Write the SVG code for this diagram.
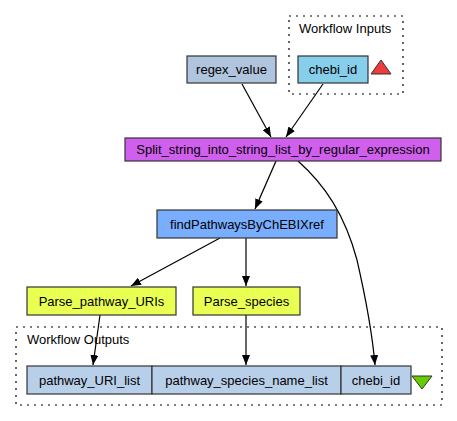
<svg xmlns="http://www.w3.org/2000/svg" width="457" height="421" viewBox="0 0 457 421">
<style>
text{font-family:"Liberation Sans",Arial,sans-serif;font-size:13px;fill:#000}
.n text{text-anchor:middle}
.n rect{stroke:#333;stroke-width:1.2}
.c{fill:none;stroke:#000;stroke-width:1.2;stroke-dasharray:2,5}
.e path{fill:none;stroke:#000;stroke-width:1.2;marker-end:url(#a)}
</style>
<defs>
<marker id="a" viewBox="0 0 10 8" refX="10" refY="4" markerWidth="10" markerHeight="8" markerUnits="userSpaceOnUse" orient="auto">
<path d="M0,0L10,4L0,8z" fill="#000"/>
</marker>
</defs>
<rect width="457" height="421" fill="#fff"/>
<g id="inputs_cluster">
<rect class="c" x="289" y="16" width="114" height="78"/>
<text x="299" y="33">Workflow Inputs</text>
</g>
<g id="outputs_cluster">
<rect class="c" x="16" y="327" width="426" height="78"/>
<text x="27" y="344">Workflow Outputs</text>
</g>
<g class="e" id="connectors">
<path d="M242,84L271,137"/>
<path d="M323,84L286,137"/>
<path d="M276,161L255,209"/>
<path d="M298,161C325,185 345,215 357,260C365,295 372,330 375,365"/>
<path d="M220,238L131,286"/>
<path d="M246,238L246,286"/>
<path d="M100,315L93,365"/>
<path d="M246,315L246,365"/>
</g>
<g class="n" id="regex_value">
<rect x="187" y="56" width="89" height="27" fill="#b0c4de"/>
<text x="231.5" y="74">regex_value</text>
</g>
<g class="n" id="chebi_id_in">
<rect x="298" y="56" width="70" height="27" fill="#87ceeb"/>
<text x="333" y="74">chebi_id</text>
</g>
<g id="input_marker">
<polygon points="381,60 391,74 371,74" fill="#ee3b3b" stroke="#333" stroke-width="1"/>
</g>
<g class="n" id="split">
<rect x="125" y="138" width="316" height="23" fill="#d15fee"/>
<text x="283" y="154">Split_string_into_string_list_by_regular_expression</text>
</g>
<g class="n" id="findPathways">
<rect x="157" y="210" width="180" height="28" fill="#79aeff"/>
<text x="247" y="228.5">findPathwaysByChEBIXref</text>
</g>
<g class="n" id="parse_uris">
<rect x="27" y="287" width="149" height="28" fill="#e9ff52"/>
<text x="101.5" y="305.5">Parse_pathway_URIs</text>
</g>
<g class="n" id="parse_species">
<rect x="193" y="287" width="107" height="28" fill="#e9ff52"/>
<text x="246.5" y="305.5">Parse_species</text>
</g>
<g class="n" id="pathway_URI_list">
<rect x="27" y="366" width="125" height="28" fill="#b8cfea"/>
<text x="89.5" y="384.5">pathway_URI_list</text>
</g>
<g class="n" id="pathway_species_name_list">
<rect x="152" y="366" width="189" height="28" fill="#b8cfea"/>
<text x="246.5" y="384.5">pathway_species_name_list</text>
</g>
<g class="n" id="chebi_id_out">
<rect x="341" y="366" width="70" height="28" fill="#b8cfea"/>
<text x="376" y="384.5">chebi_id</text>
</g>
<g id="output_marker">
<polygon points="412,376 432,376 422,389" fill="#66cd00" stroke="#333" stroke-width="1"/>
</g>
</svg>
